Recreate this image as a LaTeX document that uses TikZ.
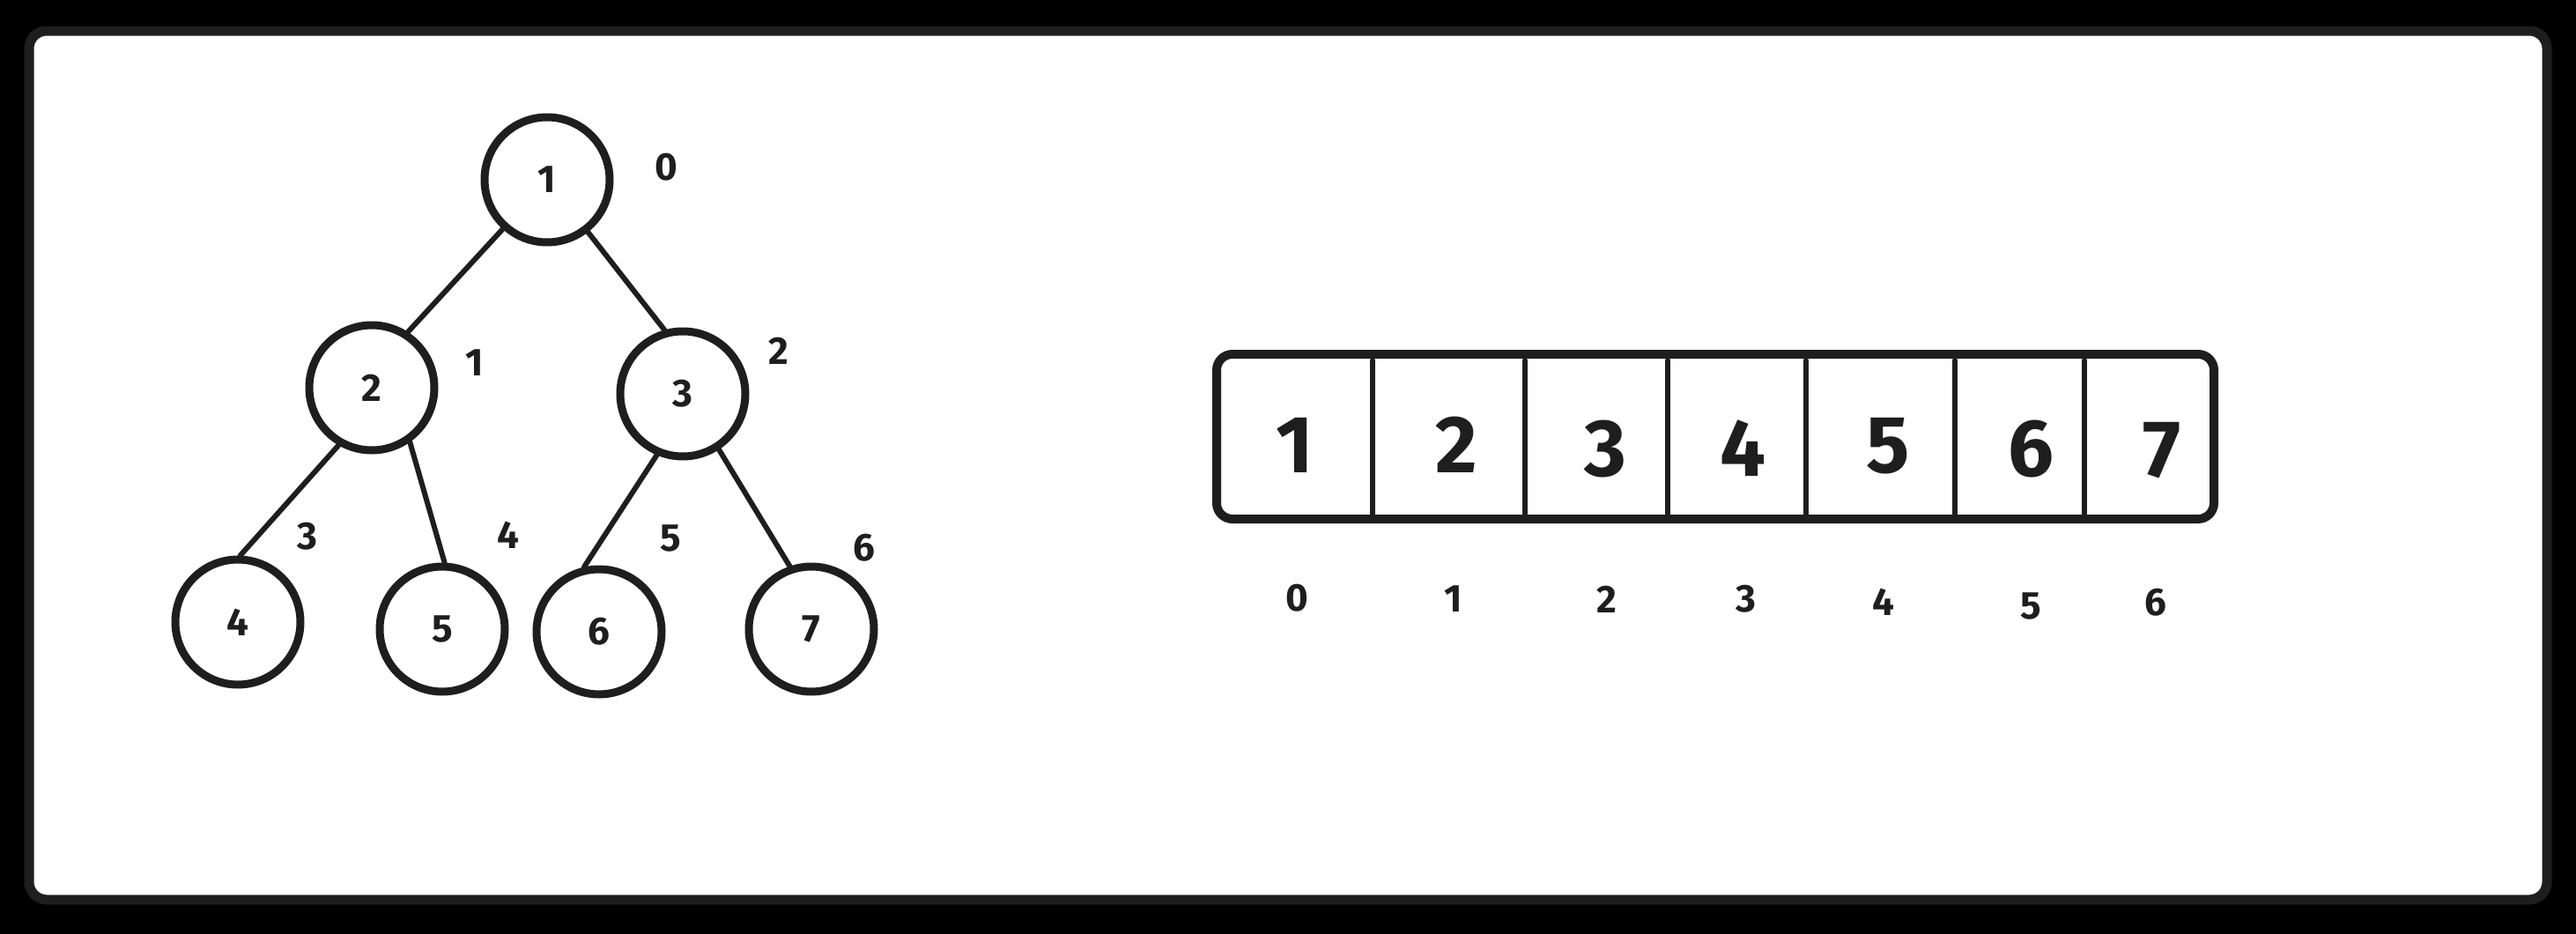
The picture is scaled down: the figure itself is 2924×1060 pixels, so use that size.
\documentclass[tikz,border=0pt]{standalone}
\usepackage{fontspec}
\setmainfont{Fira Sans}
\definecolor{ink}{HTML}{1E1E1E}
\begin{document}
\begin{tikzpicture}[x=0.5pt,y=-0.5pt,
  hnode/.style={circle,draw=ink,line width=4.5pt,minimum size=71pt,inner sep=0pt,
    font=\fontsize{22}{24}\selectfont\bfseries,text=ink},
  idx/.style={inner sep=0pt,font=\fontsize{22}{24}\selectfont\bfseries,text=ink},
  cell/.style={inner sep=0pt,font=\fontsize{46}{50}\selectfont\bfseries,text=ink},
  edge/.style={draw=ink,line width=3pt,line cap=round},
  divider/.style={draw=ink,line width=3pt,line cap=round}]
\useasboundingbox (0,0) rectangle (2924,1060);
\fill[black] (0,0) rectangle (2924,1060);
\draw[draw=ink,fill=white,line width=5.5pt,rounded corners=10pt] (33,35) rectangle (2891,1021);

% tree
\node[hnode] (n1) at (621,204) {1};
\node[hnode] (n2) at (422,440) {2};
\node[hnode] (n3) at (775,447) {3};
\node[hnode] (n4) at (270,706) {4};
\node[hnode] (n5) at (502,714) {5};
\node[hnode] (n6) at (680,717) {6};
\node[hnode] (n7) at (921,714) {7};

\draw[edge] (n1.228) -- (n2.57);
\draw[edge] (n1.308) -- (n3.106);
\draw[edge] (n2.240) -- (n4.88);
\draw[edge] (n2.305) -- (n5.88);
\draw[edge] (n3.247) -- (n6.103);
\draw[edge] (n3.303) -- (n7.109);

\node[idx] (t0) at (756,190) {0};
\node[idx] (t1) at (539,412) {1};
\node[idx] (t2) at (884,398) {2};
\node[idx] (t3) at (349,609) {3};
\node[idx] (t4) at (577,607) {4};
\node[idx] (t5) at (761,611) {5};
\node[idx] (t6) at (981,622) {6};

% array
\node[draw=ink,line width=5pt,rounded corners=9pt,minimum width=566pt,minimum height=93.5pt,inner sep=0pt] (arr) at (1947,495.5) {};
\foreach \x [count=\i] in {1558,1731,1893,2050,2219,2366}{
  \coordinate (dt\i) at (\x,409);
  \coordinate (db\i) at (\x,583);
  \draw[divider] (dt\i) -- (db\i);
}
\node[cell] (c1) at (1470,505) {1};
\node[cell] (c2) at (1653,505) {2};
\node[cell] (c3) at (1822,510) {3};
\node[cell] (c4) at (1978,509) {4};
\node[cell] (c5) at (2143,506) {5};
\node[cell] (c6) at (2305,510) {6};
\node[cell] (c7) at (2454,511) {7};

\node[idx] (a0) at (1472,679) {0};
\node[idx] (a1) at (1650,680) {1};
\node[idx] (a2) at (1824,680) {2};
\node[idx] (a3) at (1982,680) {3};
\node[idx] (a4) at (2138,683) {4};
\node[idx] (a5) at (2305,688) {5};
\node[idx] (a6) at (2447,684) {6};
\end{tikzpicture}
\end{document}
